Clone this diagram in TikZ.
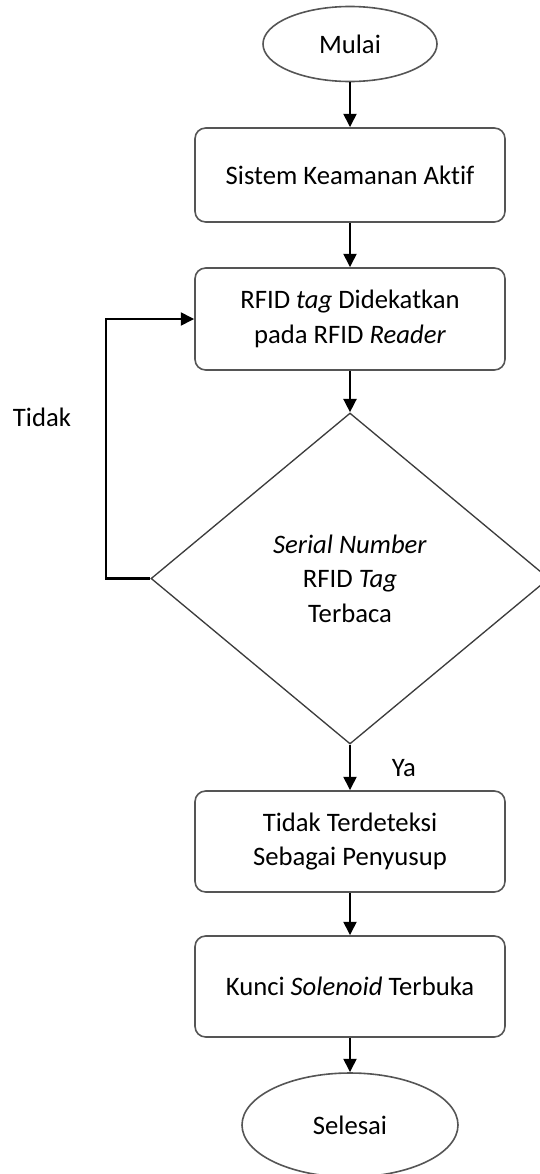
\documentclass[tikz,border=0pt]{standalone}
\usepackage{fontspec}
\setmainfont{Carlito}[Ligatures=NoCommon]
\usetikzlibrary{shapes.geometric,arrows.meta}

\tikzset{every picture/.style={line width=0.75pt}}

\begin{document}
\begin{tikzpicture}[x=0.75pt,y=0.75pt,yscale=-1,
    font=\fontsize{20}{26}\selectfont,
    garis/.style={draw={rgb,255:red,85;green,85;blue,85},line width=1.2pt},
    terminal/.style={garis,ellipse,inner sep=0pt},
    proses/.style={garis,rounded corners=8pt,minimum width=232.5pt,align=center,inner sep=0pt},
    keputusan/.style={draw={rgb,255:red,60;green,60;blue,60},line width=1pt,diamond,minimum width=298.5pt,minimum height=248.25pt,align=center,inner sep=0pt},
    panah/.style={-{Triangle[length=10pt,width=9.5pt]},line width=2.2pt,black}]
\useasboundingbox (0,0) rectangle (539,1174);
			% simbol
			\node[terminal,minimum width=130.5pt,minimum height=56.25pt] (mulai) at (350,44) {Mulai};
			\node[proses,minimum height=70.5pt] (aktif) at (350,175) {Sistem Keamanan Aktif};
			\node[proses,minimum height=76.5pt] (dekat) at (350,319) {RFID \textit{tag} Didekatkan\\pada RFID \textit{Reader}};
			\node[keputusan] (baca) at (350,578.5) {\textit{Serial Number}\\RFID \textit{Tag}\\Terbaca};
			\node[proses,minimum height=75.75pt] (deteksi) at (350,841.5) {Tidak Terdeteksi\\Sebagai Penyusup};
			\node[proses,minimum height=75.75pt] (kunci) at (350,986.5) {Kunci \textit{Solenoid} Terbuka};
			\node[terminal,minimum width=162pt,minimum height=78pt] (selesai) at (350,1125) {Selesai};
			% label
			\node (tidak) at (42,417) {Tidak};
			\node (ya) at (404,768) {Ya};
			% panah
			\coordinate (kiri) at (106,319);
			\draw[panah] (mulai) -- (aktif);
			\draw[panah] (aktif) -- (dekat);
			\draw[panah] (dekat) -- (baca);
			\draw[panah] (baca) -- (deteksi);
			\draw[panah] (deteksi) -- (kunci);
			\draw[panah] (kunci) -- (selesai);
			\draw[panah] (baca.west) -| (kiri) -- (dekat.west);
\end{tikzpicture}
\end{document}
